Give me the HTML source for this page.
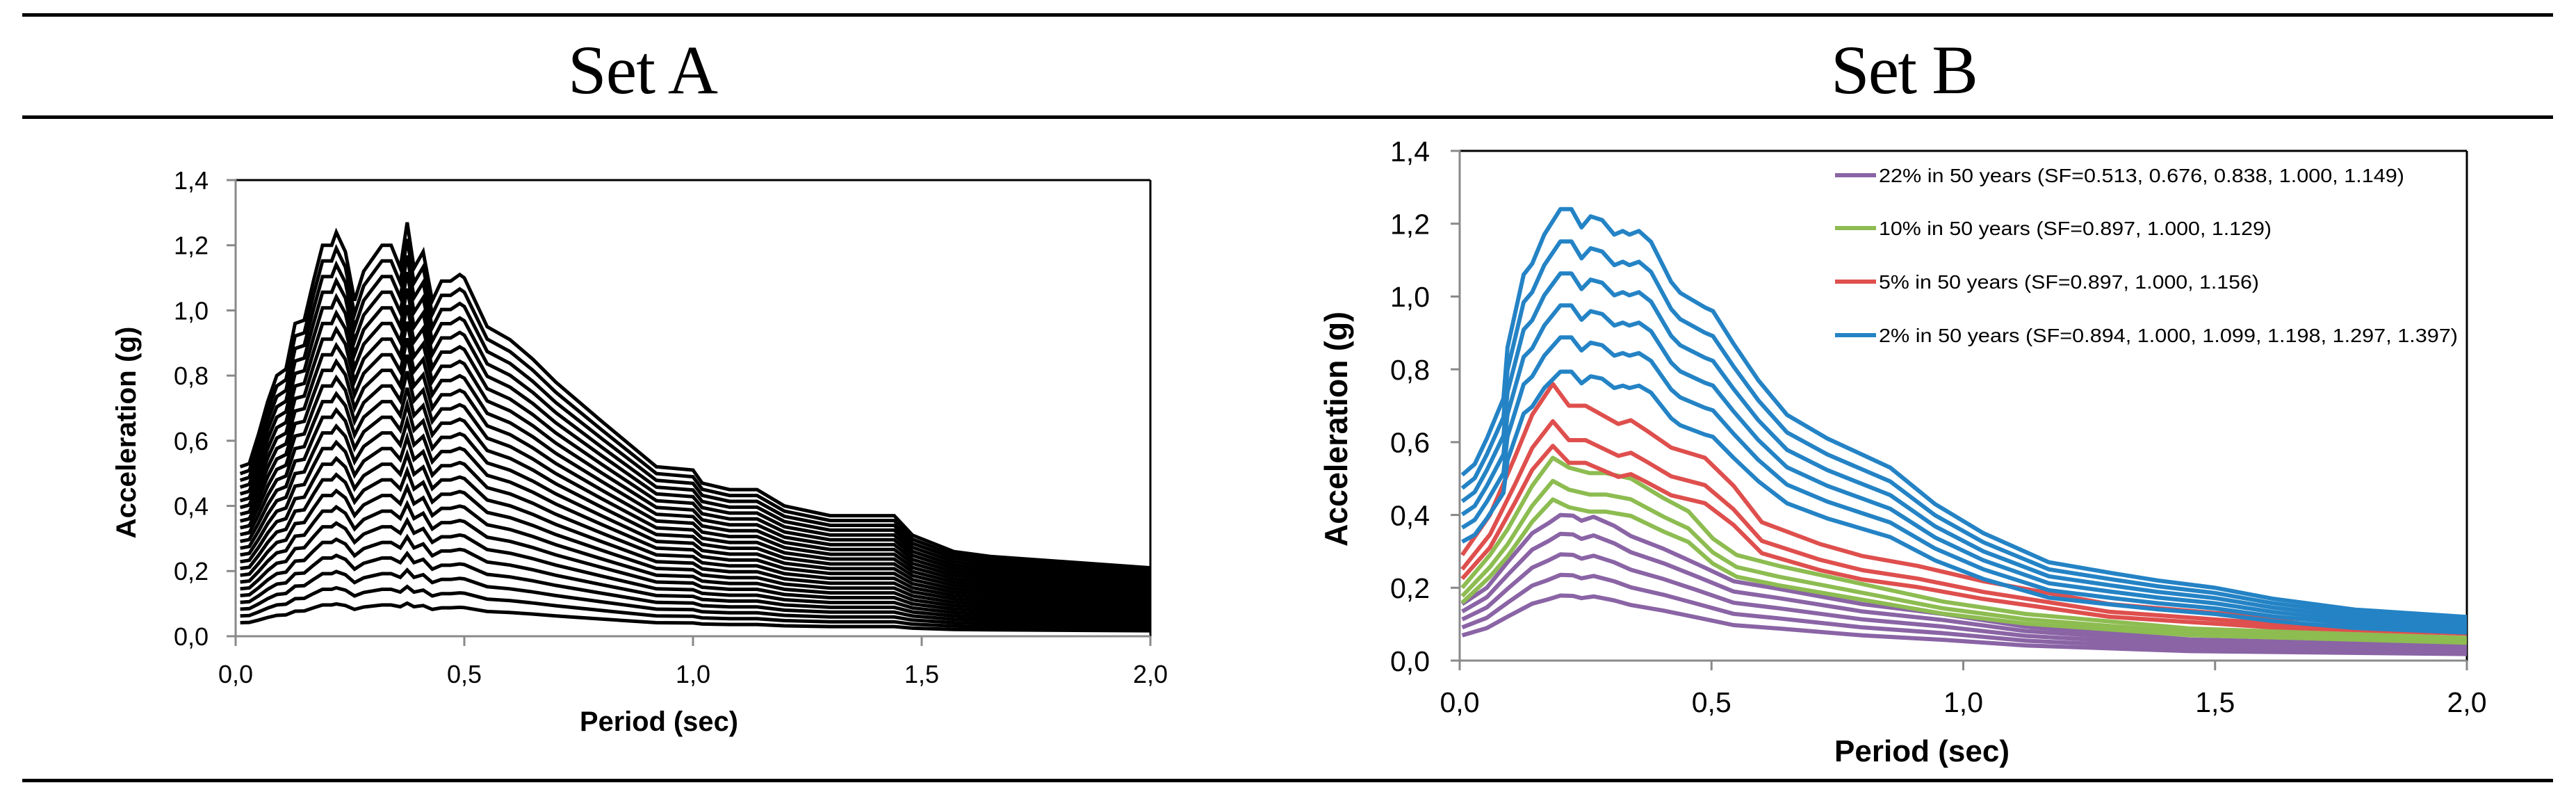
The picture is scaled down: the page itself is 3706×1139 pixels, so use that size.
<!DOCTYPE html>
<html><head><meta charset="utf-8"><style>
html,body{margin:0;padding:0;background:#fff}
svg{display:block}
text{font-family:"Liberation Sans",sans-serif}
</style></head><body>
<svg id="fig" width="3706" height="1139" viewBox="0 0 3706 1139" xmlns="http://www.w3.org/2000/svg">
<rect x="0" y="0" width="3706" height="1139" fill="#fff"/>
<rect x="32" y="19" width="3641" height="5" fill="#000"/>
<rect x="32" y="166" width="3641" height="5" fill="#000"/>
<rect x="32" y="1120" width="3641" height="5" fill="#000"/>
<text x="925" y="134" font-size="100" text-anchor="middle" style="font-family:'Liberation Serif',serif" textLength="216">Set A</text>
<text x="2740" y="134" font-size="100" text-anchor="middle" style="font-family:'Liberation Serif',serif" textLength="212">Set B</text>
<g id="chartA"></g>
<g id="chartB"></g>
</svg>
<script>
// ---------- Set A data ----------
const periodsA = [0.01,0.03,0.05,0.07,0.09,0.11,0.13,0.15,0.17,0.19,0.21,0.22,0.24,0.26,0.28,0.30,0.32,0.34,0.36,0.375,0.39,0.41,0.43,0.45,0.47,0.49,0.50,0.55,0.60,0.65,0.70,0.80,0.92,1.00,1.02,1.08,1.14,1.20,1.30,1.33,1.44,1.48,1.57,1.65,2.00];
const accelA = [0.52,0.53,0.62,0.72,0.80,0.82,0.96,0.97,1.09,1.20,1.20,1.24,1.18,1.03,1.12,1.16,1.20,1.20,1.13,1.27,1.13,1.18,1.03,1.09,1.09,1.11,1.10,0.95,0.91,0.85,0.78,0.66,0.52,0.51,0.47,0.45,0.45,0.40,0.37,0.37,0.37,0.31,0.26,0.245,0.21];
const scalesA = [0.08,0.12,0.16,0.20,0.24,0.28,0.32,0.36,0.40,0.44,0.48,0.52,0.56,0.60,0.64,0.68,0.72,0.76,0.80,0.84,0.88,0.92,0.96,1.00];
// ---------- Set B data ----------
const yTicks = [0,0.2,0.4,0.6,0.8,1.0,1.2,1.4];
const yTickLabels = ["0,0","0,2","0,4","0,6","0,8","1,0","1,2","1,4"];
const xTicks = [0,0.5,1.0,1.5,2.0];
const xTickLabels = ["0,0","0,5","1,0","1,5","2,0"];

const periodsBlue = [0.005,0.03,0.054,0.087,0.095,0.127,0.144,0.168,0.20,0.222,0.242,0.26,0.283,0.307,0.324,0.337,0.356,0.38,0.42,0.438,0.487,0.503,0.544,0.593,0.65,0.73,0.855,0.944,1.04,1.17,1.296,1.386,1.5,1.614,1.778,2.0];
const accelBlueTop = [0.51,0.54,0.61,0.72,0.86,1.06,1.09,1.17,1.24,1.24,1.19,1.22,1.21,1.17,1.18,1.17,1.18,1.15,1.04,1.01,0.97,0.96,0.87,0.77,0.675,0.61,0.53,0.43,0.35,0.27,0.24,0.22,0.20,0.17,0.14,0.12];
const sfBlue = [0.894,1.000,1.099,1.198,1.297,1.397];

const periodsRed = [0.005,0.06,0.11,0.144,0.185,0.217,0.25,0.315,0.34,0.373,0.42,0.487,0.544,0.60,0.716,0.80,0.91,1.04,1.29,1.61,2.0];
const accelRedTop = [0.29,0.40,0.56,0.675,0.76,0.70,0.70,0.65,0.66,0.63,0.585,0.557,0.48,0.38,0.32,0.287,0.26,0.218,0.155,0.118,0.095];
const sfRed = [0.897,1.000,1.156];

const periodsGreen = [0.005,0.06,0.095,0.144,0.185,0.217,0.258,0.29,0.34,0.405,0.454,0.503,0.55,0.634,0.80,0.96,1.124,1.45,2.0];
const accelGreenTop = [0.20,0.29,0.36,0.48,0.557,0.53,0.515,0.515,0.50,0.446,0.41,0.335,0.29,0.26,0.21,0.162,0.128,0.088,0.062];
const sfGreen = [0.897,1.000,1.129];

const periodsPurple = [0.005,0.054,0.095,0.144,0.176,0.20,0.225,0.242,0.266,0.307,0.34,0.405,0.47,0.544,0.634,0.80,0.96,1.124,1.45,2.0];
const accelPurpleTop = [0.155,0.20,0.27,0.35,0.377,0.40,0.398,0.384,0.395,0.37,0.342,0.307,0.266,0.218,0.197,0.155,0.128,0.093,0.058,0.04];
const sfPurple = [0.513,0.676,0.838,1.000,1.149];

const legendLabels = [
 "22% in 50 years (SF=0.513, 0.676, 0.838, 1.000, 1.149)",
 "10% in 50 years (SF=0.897, 1.000, 1.129)",
 "5% in 50 years (SF=0.897, 1.000, 1.156)",
 "2% in 50 years (SF=0.894, 1.000, 1.099, 1.198, 1.297, 1.397)"
];

const NS = "http://www.w3.org/2000/svg";
function mk(tag, attrs, parent){
  const e = document.createElementNS(NS, tag);
  for (const k in attrs) e.setAttribute(k, attrs[k]);
  parent.appendChild(e);
  return e;
}

function drawAxes(g, L){
  const xs = v => L.x0 + (v - 0) / 2.0 * (L.x1 - L.x0);
  const ys = v => L.y0 - v / 1.4 * (L.y0 - L.y1);
  const tb = mk('line',{x1:L.x0,y1:L.y1,x2:L.x1,y2:L.y1,stroke:'#000','stroke-width':3},g);
  
  
  const rb = mk('line',{x1:L.x1,y1:L.y1,x2:L.x1,y2:L.y0,stroke:'#000','stroke-width':3},g);
  
  
  return {xs, ys};
}

function drawFrame(g, L, sc, opt){
  const {xs, ys} = sc;
  const ya = mk('line',{x1:L.x0,y1:L.y1-1,x2:L.x0,y2:L.y0+14,stroke:'#898989','stroke-width':3},g);
  
  
  const xa = mk('line',{x1:L.x0-13,y1:L.y0,x2:L.x1,y2:L.y0,stroke:'#898989','stroke-width':3},g);
  
  
  yTicks.forEach((v,i)=>{
    const t = mk('line',{x1:L.x0-13,y1:ys(v),x2:L.x0,y2:ys(v),stroke:'#898989','stroke-width':3},g);
    
    
    const tx = mk('text',{x:L.x0-opt.ylabGap,y:ys(v)+opt.tickFs*0.36,'font-size':opt.tickFs,'text-anchor':'end'},g);
    tx.textContent = yTickLabels[i];
    
    
  });
  xTicks.forEach((v,i)=>{
    const t = mk('line',{x1:xs(v),y1:L.y0,x2:xs(v),y2:L.y0+14,stroke:'#898989','stroke-width':3},g);
    
    
    const tx = mk('text',{x:xs(v),y:opt.xlabBase,'font-size':opt.tickFs,'text-anchor':'middle'},g);
    tx.textContent = xTickLabels[i];
    
    
  });
  const xt = mk('text',{x:opt.xtX,y:opt.xtY,'font-size':opt.xtFs,'font-weight':'bold','text-anchor':'middle',textLength:opt.xtLen,lengthAdjust:'spacingAndGlyphs'},g);
  xt.textContent = 'Period (sec)';
  
  
  const yt = mk('text',{x:0,y:0,'font-size':opt.ytFs,'font-weight':'bold','text-anchor':'middle',textLength:opt.ytLen,lengthAdjust:'spacingAndGlyphs',transform:`translate(${opt.ytX},${opt.ytY}) rotate(-90)`},g);
  yt.textContent = 'Acceleration (g)';
  
  
}

function pathFor(periods, vals, f, sc){
  return periods.map((p,i)=>(i?'L':'M')+sc.xs(p).toFixed(1)+','+sc.ys(vals[i]*f).toFixed(1)).join(' ');
}

// ----- Chart A -----
(function(){
  const g = document.getElementById('chartA');
  const L = {x0:339,x1:1655,y0:915,y1:259};
  const sc = drawAxes(g, L);
  scalesA.forEach(s=>{
    const p = mk('path',{d:pathFor(periodsA, accelA, s, sc),fill:'none',stroke:'#000','stroke-width':5,'stroke-linejoin':'miter'},g);
    
    
  });
  drawFrame(g, L, sc, {ylabGap:39,tickFs:36,xlabBase:982,xtX:948,xtY:1051,xtFs:40,xtLen:228,ytFs:40,ytX:195,ytY:622,ytLen:305});
})();

// ----- Chart B -----
(function(){
  const g = document.getElementById('chartB');
  const L = {x0:2100,x1:3549,y0:950,y1:217};
  const sc = drawAxes(g, L);
  const groups = [
    {periods:periodsPurple, vals:accelPurpleTop, sfs:sfPurple, color:'#8A64A5', name:'purple-22pct'},
    {periods:periodsGreen, vals:accelGreenTop, sfs:sfGreen, color:'#8DBC51', name:'green-10pct'},
    {periods:periodsRed, vals:accelRedTop, sfs:sfRed, color:'#DE4F4D', name:'red-5pct'},
    {periods:periodsBlue, vals:accelBlueTop, sfs:sfBlue, color:'#2483C5', name:'blue-2pct'}
  ];
  groups.forEach(gr=>{
    const top = gr.sfs[gr.sfs.length-1];
    gr.sfs.forEach(sf=>{
      const p = mk('path',{d:pathFor(gr.periods, gr.vals, sf/top, sc),fill:'none',stroke:gr.color,'stroke-width':6,'stroke-linejoin':'round'},g);
      
      
    });
  });
  drawFrame(g, L, sc, {ylabGap:43,tickFs:41,xlabBase:1024,xtX:2765,xtY:1095,xtFs:44,xtLen:252,ytFs:46,ytX:1938,ytY:617,ytLen:338});
  const rowsY = [252,328,405,482];
  const lens = [756,565,547,833];
  const cols = ['#8A64A5','#8DBC51','#DE4F4D','#2483C5'];
  legendLabels.forEach((lab,i)=>{
    const ln = mk('line',{x1:2640,y1:rowsY[i],x2:2699,y2:rowsY[i],stroke:cols[i],'stroke-width':6},g);
    
    
    const t = mk('text',{x:2703,y:rowsY[i]+10,'font-size':28,textLength:lens[i],lengthAdjust:'spacingAndGlyphs'},g);
    t.textContent = lab;
    
    
  });
})();
</script>
</body></html>
